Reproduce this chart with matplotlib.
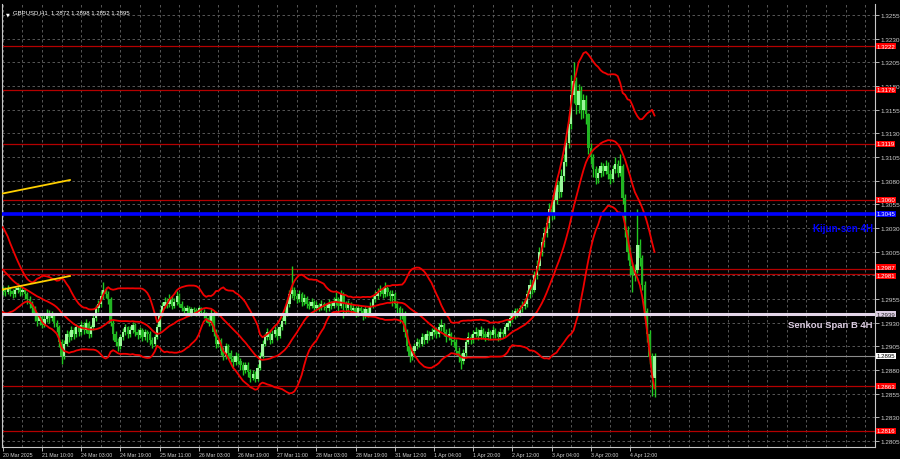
import numpy as np
import pandas as pd
import matplotlib
matplotlib.use("Agg")
import matplotlib.pyplot as plt
import matplotlib.font_manager as fm
import matplotlib.transforms as mtransforms

# ---------------- data (pips above 1.2800) ----------------
BASE = 1.2800
PIP = 0.0001

pre_closes = [215, 220, 218, 222, 215, 210, 205, 200, 195, 190,
              185, 180, 178, 170, 165, 160, 158, 162, 160, 163]

closes = [165,162,166,163,160,164,167,162,165,160,
          155,150,145,138,132,136,128,134,140,135,
          138,130,125,110,95,108,118,115,122,118,
          125,120,128,122,130,118,125,135,145,150,
          158,165,160,155,130,118,110,105,115,120,
          125,118,122,128,120,117,122,115,120,118,
          112,108,115,125,140,148,152,150,155,148,
          152,158,150,145,142,146,140,144,143,140,
          145,141,138,135,130,140,120,108,112,100,
          95,105,98,92,88,95,90,85,80,85,
          78,72,76,70,82,95,108,115,120,112,
          118,122,116,125,132,140,150,160,165,158,
          155,160,152,156,150,148,152,145,149,146,
          150,147,145,150,148,152,155,148,160,150,
          145,150,143,146,140,145,142,138,144,140,
          148,155,158,162,165,160,167,162,158,160,
          150,145,138,140,120,105,95,100,105,110,
          108,115,112,118,116,120,122,118,125,128,
          120,115,118,112,110,100,95,90,98,110,
          115,112,118,120,116,122,118,115,120,117,
          122,118,115,120,118,125,130,135,138,142,
          140,145,148,150,160,170,165,180,190,205,
          215,225,235,250,245,260,275,268,285,300,
          320,340,370,385,360,375,355,365,350,315,
          305,292,283,288,295,290,296,287,282,292,
          298,288,295,262,228,205,190,180,186,212,
          198,170,142,118,94,72,95]

highs = [169,168,170,168,166,168,172,169,168,167,
         162,158,153,148,141,140,139,138,144,143,
         142,140,133,128,113,112,122,121,126,125,
         129,128,132,131,134,132,128,139,149,154,
         163,173,168,163,157,133,121,114,118,124,
         129,127,126,131,130,123,125,124,123,122,
         121,115,118,129,144,152,157,156,160,158,
         156,163,161,153,148,149,148,147,147,146,
         148,147,144,141,138,144,142,123,116,114,
         104,109,108,101,95,99,98,93,88,89,
         88,81,80,79,86,99,112,119,124,122,
         122,126,124,129,136,145,155,165,190,168,
         161,164,162,160,158,153,156,154,153,151,
         154,152,150,155,153,157,162,157,165,162,
         153,154,152,150,148,149,148,145,148,147,
         152,159,163,167,170,168,173,169,165,164,
         162,153,148,146,142,123,108,104,109,114,
         113,119,118,122,121,124,126,125,130,134,
         130,123,124,120,116,113,104,98,102,114,
         120,118,122,125,123,126,124,121,124,122,
         126,124,121,124,123,129,134,139,143,146,
         146,149,153,156,165,176,174,185,196,210,
         221,231,242,256,258,266,282,280,292,308,
         328,348,392,405,390,382,380,372,370,352,
         320,308,296,293,300,299,302,300,291,297,
         305,302,308,298,266,232,210,194,192,250,
         218,202,174,146,122,98,98]

lows = [159,158,160,158,156,157,161,158,159,155,
        150,146,140,132,126,128,124,125,131,130,
        132,125,120,104,86,92,105,110,112,113,
        115,116,117,118,119,114,115,122,132,141,
        147,155,156,150,126,112,105,100,102,112,
        117,114,115,119,116,113,114,111,112,110,
        106,103,105,113,122,137,145,146,147,144,
        145,149,147,142,139,139,137,137,140,137,
        138,138,135,131,126,128,116,103,104,96,
        91,92,94,88,83,85,86,80,75,77,
        73,67,69,67,68,80,93,105,112,108,
        109,115,112,114,122,129,137,147,156,154,
        151,152,148,149,146,144,145,141,142,142,
        143,143,141,142,144,145,149,140,145,135,
        140,141,139,140,136,137,138,133,135,136,
        138,145,152,155,158,156,157,158,153,148,
        146,140,130,134,115,100,88,91,97,102,
        104,105,108,109,112,113,117,114,115,121,
        116,110,112,106,104,96,89,81,86,95,
        107,108,109,115,112,113,114,111,112,113,
        114,114,111,112,114,115,122,127,131,134,
        136,137,141,144,147,156,160,162,176,186,
        200,210,220,230,238,240,255,262,263,280,
        295,315,335,362,350,352,345,346,340,308,
        298,284,277,278,284,285,287,282,276,279,
        288,284,285,255,220,196,180,162,174,182,
        190,165,135,110,86,53,52]

time_labels = ["20 Mar 2025", "21 Mar 10:00", "24 Mar 03:00", "24 Mar 19:00",
               "25 Mar 11:00", "26 Mar 03:00", "26 Mar 19:00", "27 Mar 11:00",
               "28 Mar 03:00", "28 Mar 19:00", "31 Mar 12:00", "1 Apr 04:00",
               "1 Apr 20:00", "2 Apr 12:00", "3 Apr 04:00", "3 Apr 20:00",
               "4 Apr 12:00"]
LABEL_EVERY = 16
GRID_EVERY = 8

price_ticks = [1.2805, 1.2830, 1.2855, 1.2880, 1.2905, 1.2930, 1.2955, 1.2980,
               1.3005, 1.3030, 1.3055, 1.3080, 1.3105, 1.3130, 1.3155, 1.3180,
               1.3205, 1.3230, 1.3255]
hidden_tick_labels = [1.2980]   # fully covered by the level tags in the reference

red_levels = [1.3222, 1.3176, 1.3119, 1.3060, 1.2987, 1.2981, 1.2863, 1.2816]
kijun_level = 1.3045
senkou_level = 1.2939
last_price = 1.2895
title_text = "GBPUSD,H1  1.2872 1.2898 1.2852 1.2895"

trend_upper_x = [-1.1, 27.4]
trend_upper_y = [1.30659, 1.30807]
trend_lower_x = [-1.1, 27.4]
trend_lower_y = [1.29645, 1.29793]

BB_PERIOD = 20

# ---------------- fonts ----------------
names = {f.name for f in fm.fontManager.ttflist}
FONT = "Liberation Sans" if "Liberation Sans" in names else "DejaVu Sans"
FAM = [FONT, "DejaVu Sans"]

# ---------------- prepare ----------------
c = BASE + np.array(closes, float) * PIP
h = BASE + np.array(highs, float) * PIP
l = BASE + np.array(lows, float) * PIP
o = BASE + np.array([pre_closes[-1]] + closes[:-1], float) * PIP
h = np.maximum(h, np.maximum(o, c))
l = np.minimum(l, np.minimum(o, c))
x = np.arange(len(c))

full = pd.Series(BASE + np.array(pre_closes + closes, float) * PIP)
mid = full.rolling(BB_PERIOD).mean().values[-len(c):]
sd = full.rolling(BB_PERIOD).std(ddof=0).values[-len(c):]
upper = mid + 2 * sd
lower = mid - 2 * sd

# ---------------- figure ----------------
fig = plt.figure(figsize=(9, 4.6), dpi=100, facecolor="black")
ax = fig.add_axes([2 / 900, 12 / 460, 873 / 900, 443 / 460], facecolor="black")

x_left = (2 - 2.8) / 2.45
x_right = (875 - 2.8) / 2.45
ax.set_xlim(x_left, x_right)
ax.set_ylim(1.27987, 1.32666)

grid_kw = dict(color="#646464", lw=0.6, linestyle=(0, (3, 3)), zorder=0)
for gx in np.arange(0, x_right, GRID_EVERY):
    ax.axvline(gx, **grid_kw)
for gy in price_ticks:
    ax.axhline(gy, **grid_kw)

# level lines
for lv in red_levels:
    ax.axhline(lv, color="#B40000", lw=0.9, zorder=1)
ax.axhline(last_price, color="#8c8c8c", lw=0.8, zorder=1)

# candles
up = c >= o
ax.vlines(x, l, h, color="#22C822", lw=1.0, zorder=2)
body_h = np.maximum(np.abs(c - o), 0.00008)
ax.bar(x[up], body_h[up], bottom=np.minimum(o, c)[up], width=0.95,
       color="#9CF79C", edgecolor="none", zorder=3)
ax.bar(x[~up], body_h[~up], bottom=np.minimum(o, c)[~up], width=0.95,
       color="#22B422", edgecolor="none", zorder=3)

# bollinger bands
for band in (upper, mid, lower):
    ax.plot(x, band, color="#F00000", lw=1.3, zorder=4)

# kijun / senkou
ax.axhline(kijun_level, color="#0000FF", lw=2.6, zorder=5)
ax.axhline(senkou_level, color="#E4D6EA", lw=2.2, zorder=5)

# yellow trendlines
ax.plot(trend_upper_x, trend_upper_y, color="#FFD000", lw=1.3, zorder=5)
ax.plot(trend_lower_x, trend_lower_y, color="#FFD000", lw=1.3, zorder=5)

# in-chart labels
xr = (873 - 2.8) / 2.45
ax.text(xr, 1.30300, "Kijun-sen 4H", color="#0000FF", fontsize=7.0,
        fontweight="bold", ha="right", va="center", family=FAM, zorder=6)
ax.text(xr, 1.29286, "Senkou Span B 4H", color="#DCCDE2", fontsize=6.8,
        fontweight="bold", ha="right", va="center", family=FAM, zorder=6)

# title
ax.text(0.004, 0.984, "\u25BC", transform=ax.transAxes, color="white",
        fontsize=3.5, ha="left", va="top", family="DejaVu Sans")
ax.text(0.0125, 0.988, title_text, transform=ax.transAxes, color="white",
        fontsize=4.3, ha="left", va="top", family=FAM)

# axes styling
for s in ("left", "right", "bottom"):
    ax.spines[s].set_color("#C8C8C8")
    ax.spines[s].set_linewidth(0.8)
ax.spines["top"].set_visible(False)

ax.yaxis.tick_right()
ax.set_yticks(price_ticks)
ax.set_yticklabels(["" if t in hidden_tick_labels else f"{t:.4f}" for t in price_ticks],
                   family=FAM)
ax.tick_params(axis="y", colors="#D0D0D0", labelsize=4.6, length=3,
               width=0.6, pad=1.2, direction="out")

xt = np.arange(len(time_labels)) * LABEL_EVERY
ax.set_xticks(xt)
ax.set_xticklabels(time_labels, ha="left", family=FAM)
ax.tick_params(axis="x", colors="#D0D0D0", labelsize=3.8, length=3,
               width=0.6, pad=0.8, direction="out")

# price tags on the right scale
blend = mtransforms.blended_transform_factory(ax.transAxes, ax.transData)
tag_nudge = {1.2987: 0.00016, 1.2981: -0.00016}

def tag(price, fc, tc):
    ax.text(1.002, price + tag_nudge.get(price, 0.0), f"{price:.4f}", transform=blend,
            ha="left", va="center", fontsize=4.4, color=tc, family=FAM,
            clip_on=False, zorder=10,
            bbox=dict(boxstyle="square,pad=0.08", fc=fc, ec="none"))

for lv in red_levels:
    tag(lv, "#FF0000", "white")
tag(kijun_level, "#0000FF", "white")
tag(senkou_level, "#DCCDE2", "#202020")
tag(last_price, "white", "black")

fig.savefig("out.png", dpi=100, facecolor="black")
